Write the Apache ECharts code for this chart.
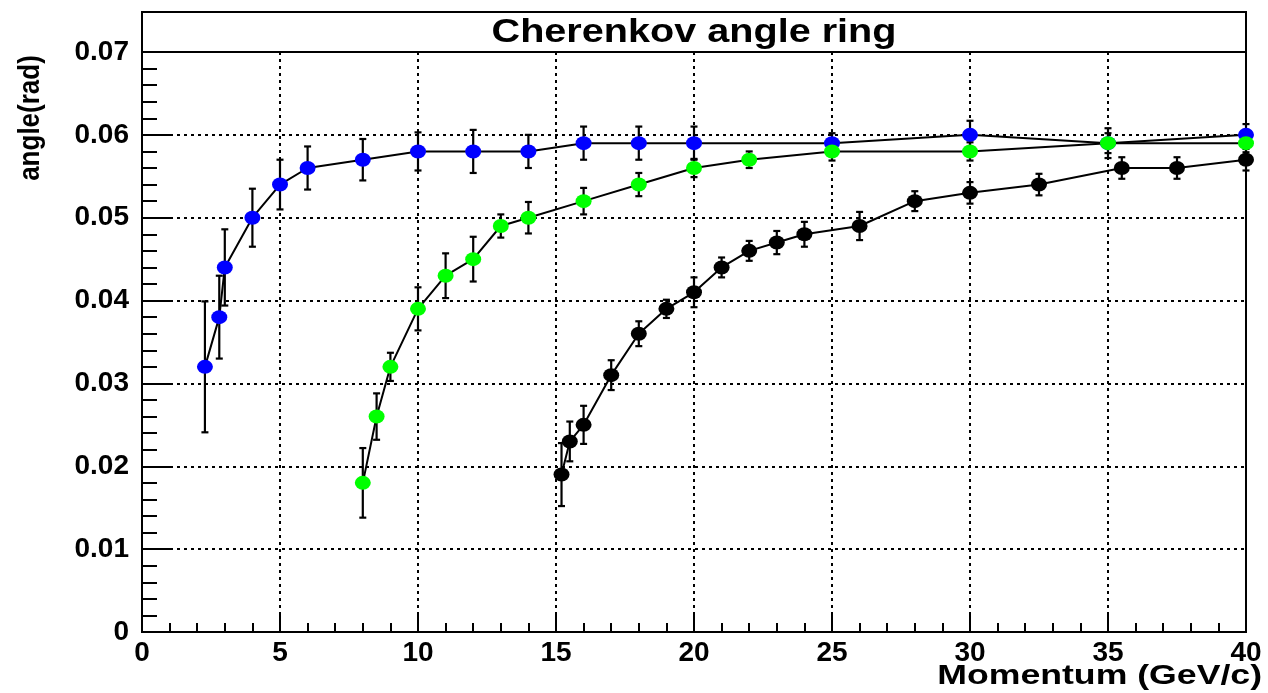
<!DOCTYPE html>
<html>
<head>
<meta charset="utf-8">
<title>Cherenkov angle ring</title>
<script src="https://cdn.jsdelivr.net/npm/echarts@6/dist/echarts.min.js"></script>
<style>
  html, body { margin: 0; padding: 0; background: #fff; }
  #chart { width: 1268px; height: 693px; }
</style>
</head>
<body>
<div id="chart"></div>
<script>
// Momentum (GeV/c), ring angle (rad) and its uncertainty for each particle band
const blueMomentum = [2.28, 2.8, 3.0, 4, 5, 6, 8, 10, 12, 14, 16, 18, 20, 25, 30, 35, 40];
const blueAngle    = [0.032, 0.038, 0.044, 0.050, 0.054, 0.056, 0.057, 0.058, 0.058, 0.058, 0.059, 0.059, 0.059, 0.059, 0.060, 0.059, 0.060];
const blueError    = [0.0079, 0.005, 0.0046, 0.0035, 0.003, 0.0026, 0.0025, 0.0023, 0.0026, 0.002, 0.002, 0.002, 0.002, 0.0012, 0.0017, 0.0018, 0.0013];

const greenMomentum = [8, 8.5, 9, 10, 11, 12, 13, 14, 16, 18, 20, 22, 25, 30, 35, 40];
const greenAngle    = [0.018, 0.026, 0.032, 0.039, 0.043, 0.045, 0.049, 0.050, 0.052, 0.054, 0.056, 0.057, 0.058, 0.058, 0.059, 0.059];
const greenError    = [0.0042, 0.0028, 0.0017, 0.0026, 0.0027, 0.0027, 0.0014, 0.0019, 0.0016, 0.0014, 0.0011, 0.001, 0.0011, 0.0011, 0.0012, 0.0011];

const blackMomentum = [15.2, 15.5, 16, 17, 18, 19, 20, 21, 22, 23, 24, 26, 28, 30, 32.5, 35.5, 37.5, 40];
const blackAngle    = [0.019, 0.023, 0.025, 0.031, 0.036, 0.039, 0.041, 0.044, 0.046, 0.047, 0.048, 0.049, 0.052, 0.053, 0.054, 0.056, 0.056, 0.057];
const blackError    = [0.0038, 0.0024, 0.0023, 0.0018, 0.0015, 0.0011, 0.0018, 0.0012, 0.0012, 0.0014, 0.0015, 0.0017, 0.0012, 0.0013, 0.0013, 0.0013, 0.0013, 0.0013];

const xTickLabels = ['0', '5', '10', '15', '20', '25', '30', '35', '40'];
const yTickLabels = ['0', '0.01', '0.02', '0.03', '0.04', '0.05', '0.06', '0.07'];

const chartTitle = 'Cherenkov angle ring';
const xTitle = 'Momentum (GeV/c)';
const yTitle = 'angle(rad)';

const FONT = '"Liberation Sans", Arial, Helvetica, sans-serif';
const GRID = { left: 142, right: 22, top: 52, bottom: 61 };
const ELLIPSE = 'path://M0 1A1 1 0 1 1 2 1A1 1 0 1 1 0 1Z';

function pairs(xs, ys) { return xs.map((x, i) => [x, ys[i]]); }
function triples(xs, ys, es) { return xs.map((x, i) => [x, ys[i], es[i]]); }

// vertical error bar with short end caps
function renderErrorBar(params, api) {
  const x = api.value(0), y = api.value(1), e = api.value(2);
  const top = api.coord([x, y + e]);
  const bot = api.coord([x, y - e]);
  const cap = 3.5;
  const st = { stroke: '#000', lineWidth: 2.2 };
  return {
    type: 'group',
    children: [
      { type: 'line', shape: { x1: top[0], y1: top[1], x2: bot[0], y2: bot[1] }, style: st },
      { type: 'line', shape: { x1: top[0] - cap, y1: top[1], x2: top[0] + cap, y2: top[1] }, style: st },
      { type: 'line', shape: { x1: bot[0] - cap, y1: bot[1], x2: bot[0] + cap, y2: bot[1] }, style: st }
    ]
  };
}

function errorSeries(xs, ys, es, z) {
  return {
    type: 'custom',
    renderItem: renderErrorBar,
    data: triples(xs, ys, es),
    encode: { x: 0, y: 1 },
    z: z,
    silent: true
  };
}

function pointSeries(xs, ys, color, z) {
  return {
    type: 'line',
    data: pairs(xs, ys),
    symbol: ELLIPSE,
    symbolSize: [16, 14],
    showSymbol: true,
    lineStyle: { color: '#000', width: 2 },
    itemStyle: { color: color, borderWidth: 0 },
    emphasis: { disabled: true },
    z: z,
    silent: true
  };
}

const chart = echarts.init(document.getElementById('chart'), null, { renderer: 'canvas' });

chart.setOption({
  animation: false,
  backgroundColor: '#fff',
  grid: {
    left: GRID.left, right: GRID.right, top: GRID.top, bottom: GRID.bottom,
    show: true, borderColor: '#000', borderWidth: 2, backgroundColor: 'transparent'
  },
  xAxis: {
    type: 'value', min: 0, max: 40, interval: 5,
    axisLine: { show: true, onZero: false, lineStyle: { color: '#000', width: 2 } },
    axisTick: { show: true, inside: true, length: 17, lineStyle: { color: '#000', width: 2 } },
    minorTick: { show: true, splitNumber: 5, length: 9, lineStyle: { color: '#000', width: 2 } },
    splitLine: { show: true, lineStyle: { color: '#000', width: 2, type: [3, 4] } },
    axisLabel: {
      color: '#000', fontFamily: FONT, fontWeight: 'bold', fontSize: 28, margin: 7,
      formatter: (v) => xTickLabels[Math.round(v / 5)]
    }
  },
  yAxis: {
    type: 'value', min: 0, max: 0.07, interval: 0.01,
    axisLine: { show: true, onZero: false, lineStyle: { color: '#000', width: 2 } },
    axisTick: { show: true, inside: true, length: 31, lineStyle: { color: '#000', width: 2 } },
    minorTick: { show: true, splitNumber: 5, length: 15, lineStyle: { color: '#000', width: 2 } },
    splitLine: { show: true, lineStyle: { color: '#000', width: 2, type: [3, 4] } },
    axisLabel: {
      color: '#000', fontFamily: FONT, fontWeight: 'bold', fontSize: 28, margin: 13,
      formatter: (v) => yTickLabels[Math.round(v / 0.01)]
    }
  },
  graphic: [
    {
      type: 'rect', z: 100,
      shape: { x: GRID.left, y: 12, width: 1268 - GRID.left - GRID.right, height: 40 },
      style: { fill: '#fff', stroke: '#000', lineWidth: 2 }
    },
    {
      type: 'text', z: 101, x: (GRID.left + 1268 - GRID.right) / 2, y: 33, scaleX: 1.2,
      style: {
        text: chartTitle, fill: '#000', font: 'bold 33px ' + FONT,
        textAlign: 'center', textVerticalAlign: 'middle'
      }
    },
    {
      type: 'text', z: 101, x: 1262, y: 677, scaleX: 1.32,
      style: {
        text: xTitle, fill: '#000', font: 'bold 27px ' + FONT,
        textAlign: 'right', textVerticalAlign: 'middle'
      }
    },
    {
      type: 'text', z: 101, x: 31, y: 118, rotation: Math.PI / 2, scaleY: 1.1,
      style: {
        text: yTitle, fill: '#000', font: 'bold 26px ' + FONT,
        textAlign: 'center', textVerticalAlign: 'middle'
      }
    }
  ],
  series: [
    errorSeries(blueMomentum, blueAngle, blueError, 3),
    errorSeries(greenMomentum, greenAngle, greenError, 3),
    errorSeries(blackMomentum, blackAngle, blackError, 3),
    pointSeries(blueMomentum, blueAngle, '#0000ff', 4),
    pointSeries(greenMomentum, greenAngle, '#00ff00', 5),
    pointSeries(blackMomentum, blackAngle, '#000000', 6)
  ]
});
</script>
</body>
</html>
